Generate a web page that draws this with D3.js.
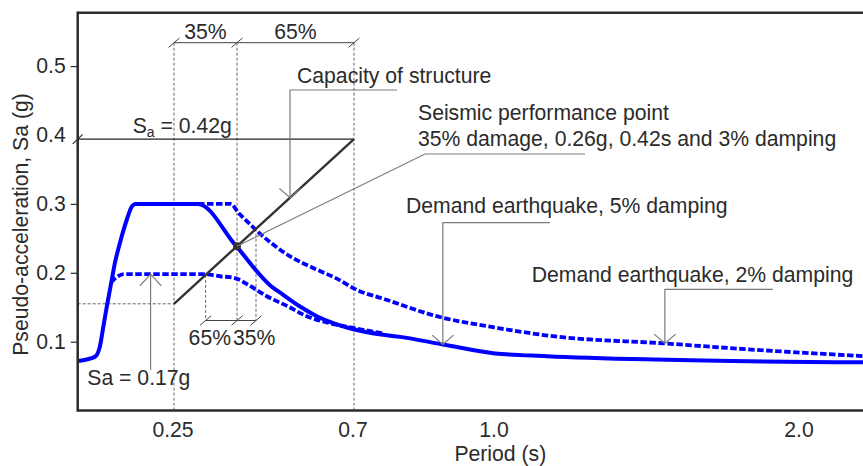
<!DOCTYPE html>
<html>
<head>
<meta charset="utf-8">
<script src="https://cdn.jsdelivr.net/npm/d3@7"></script>
<style>
  html, body { margin: 0; padding: 0; background: #fff; }
  svg { display: block; font-family: "Liberation Sans", Arial, Helvetica, sans-serif; }
</style>
</head>
<body>
<svg id="chart" width="863" height="466"></svg>
<script>
// ---- Axis ticks ----
const periodTicks = [0.25, 0.7, 1.0, 2.0];
const periodTickLabels = ["0.25", "0.7", "1.0", "2.0"];
const saTicks = [0.1, 0.2, 0.3, 0.4, 0.5];
const saTickLabels = ["0.1", "0.2", "0.3", "0.4", "0.5"];

// ---- Demand spectra: [period (s), Sa (g)] ----
// 5% damping (solid)
const demand5 = [
  [0.000, 0.072], [0.044, 0.078], [0.057, 0.093], [0.066, 0.122], [0.075, 0.151],
  [0.088, 0.190], [0.096, 0.214], [0.109, 0.243], [0.127, 0.277], [0.140, 0.296],
  [0.150, 0.300], [0.310, 0.300], [0.405, 0.239], [0.490, 0.182], [0.523, 0.168],
  [0.565, 0.151], [0.607, 0.137], [0.648, 0.127], [0.698, 0.118], [0.762, 0.110],
  [0.798, 0.107], [0.889, 0.096], [1.000, 0.083], [1.170, 0.079], [1.530, 0.074],
  [2.210, 0.070]
];
// 2% damping (dashed, continues the 5% plateau)
const demand2 = [
  [0.310, 0.300], [0.392, 0.300], [0.411, 0.287], [0.432, 0.275], [0.457, 0.261],
  [0.498, 0.241], [0.540, 0.224], [0.598, 0.207], [0.652, 0.193], [0.713, 0.173],
  [0.755, 0.164], [0.876, 0.137], [0.996, 0.121], [1.190, 0.108], [1.557, 0.0975],
  [1.826, 0.089], [2.210, 0.079]
];
// reduced spectrum with the 0.2 g plateau (dashed)
const demandLow = [
  [0.086, 0.186], [0.099, 0.193], [0.120, 0.198], [0.3225, 0.198], [0.365, 0.195],
  [0.404, 0.192], [0.440, 0.181], [0.482, 0.166], [0.532, 0.152], [0.582, 0.137],
  [0.632, 0.128], [0.698, 0.120], [0.762, 0.112]
];

// ---- Capacity of structure ----
const capacityStart = [0.25, 0.155];
const capacityEnd = [0.70, 0.394];
const damageShare = [0.35, 0.65];          // 35% / 65% split of the capacity range
const damageBounds = [0.329, 0.455];       // periods where capacity meets the dashed spectra

// ---- Layout ----
const W = 863, H = 466;
const plotLeft = 77.7, plotTop = 12.7, plotBottom = 410.6;

const x = d3.scaleLinear()
  .domain([0, 0.25, 0.7, 1.0, 2.0])
  .range([78, 174, 354, 495, 800]);
const y = d3.scaleLinear().domain([0, 0.5]).range([plotBottom, plotBottom - 344.5]);

const svg = d3.select("#chart");
const ink = "#2b2b2b";
const guide = "#7a7a7a";
const blue = "#0000ff";
const fs = 21.2;

const capAt = p => capacityStart[1] + (p - capacityStart[0]) / (capacityEnd[0] - capacityStart[0]) * (capacityEnd[1] - capacityStart[1]);
const perfPeriod = capacityStart[0] + damageShare[0] * (capacityEnd[0] - capacityStart[0]);
const perfSa = capAt(perfPeriod);

// ---- Dashed reference lines ----
const topDimY = 42.7, botDimY = 320.5;
const dashed = svg.append("g").attr("stroke", "#666").attr("stroke-width", 1).attr("stroke-dasharray", "3,2").attr("fill", "none");
dashed.append("line").attr("x1", x(capacityStart[0])).attr("x2", x(capacityStart[0])).attr("y1", topDimY).attr("y2", plotBottom);
dashed.append("line").attr("x1", x(capacityEnd[0])).attr("x2", x(capacityEnd[0])).attr("y1", topDimY).attr("y2", plotBottom);
dashed.append("line").attr("x1", x(perfPeriod)).attr("x2", x(perfPeriod)).attr("y1", topDimY).attr("y2", botDimY);
damageBounds.forEach(p => {
  dashed.append("line").attr("x1", x(p)).attr("x2", x(p)).attr("y1", y(capAt(p))).attr("y2", botDimY);
});
dashed.append("line").attr("x1", plotLeft).attr("x2", x(capacityStart[0])).attr("y1", y(capacityStart[1])).attr("y2", y(capacityStart[1]));

// ---- Dimension lines ----
const dim = svg.append("g").attr("stroke", "#444").attr("stroke-width", 1).attr("fill", "none");
function slash(g, cx, cy) {
  g.append("line").attr("x1", cx - 5.5).attr("y1", cy + 4.7).attr("x2", cx + 5.5).attr("y2", cy - 4.7);
}
dim.append("line").attr("x1", x(capacityStart[0])).attr("x2", x(capacityEnd[0])).attr("y1", topDimY).attr("y2", topDimY);
[capacityStart[0], perfPeriod, capacityEnd[0]].forEach(p => slash(dim, x(p), topDimY));
dim.append("line").attr("x1", x(damageBounds[0])).attr("x2", x(damageBounds[1])).attr("y1", botDimY).attr("y2", botDimY);
[damageBounds[0], perfPeriod, damageBounds[1]].forEach(p => slash(dim, x(p), botDimY));

// Sa level of the capacity top
svg.append("line").attr("x1", plotLeft).attr("x2", x(capacityEnd[0]))
  .attr("y1", y(capacityEnd[1])).attr("y2", y(capacityEnd[1]))
  .attr("stroke", "#222").attr("stroke-width", 1.2);

// ---- Spectra ----
const line = d3.line().x(d => x(d[0])).y(d => y(d[1])).curve(d3.curveMonotoneX);
svg.append("path").datum(demand2).attr("d", line)
  .attr("fill", "none").attr("stroke", blue).attr("stroke-width", 3.8).attr("stroke-dasharray", "6.5,2.5");
svg.append("path").datum(demandLow).attr("d", line)
  .attr("fill", "none").attr("stroke", blue).attr("stroke-width", 3.8).attr("stroke-dasharray", "6.5,2.5");
svg.append("path").datum(demand5).attr("d", line)
  .attr("fill", "none").attr("stroke", blue).attr("stroke-width", 4);

// ---- Capacity line and performance point ----
svg.append("line")
  .attr("x1", x(capacityStart[0])).attr("y1", y(capacityStart[1]))
  .attr("x2", x(capacityEnd[0])).attr("y2", y(capacityEnd[1]))
  .attr("stroke", "#333").attr("stroke-width", 2.4);
svg.append("circle").attr("cx", x(perfPeriod)).attr("cy", y(perfSa)).attr("r", 4)
  .attr("fill", "#333");

// ---- Axes ----
const frame = svg.append("g").attr("stroke", ink).attr("stroke-width", 2.5).attr("fill", "none");
frame.append("line").attr("x1", plotLeft).attr("x2", W).attr("y1", plotTop).attr("y2", plotTop);
frame.append("line").attr("x1", plotLeft).attr("x2", plotLeft).attr("y1", plotTop - 1.25).attr("y2", plotBottom + 1.25);
frame.append("line").attr("x1", plotLeft).attr("x2", W).attr("y1", plotBottom).attr("y2", plotBottom);

const yAxis = svg.append("g").attr("transform", `translate(${plotLeft},0)`)
  .call(d3.axisLeft(y).tickValues(saTicks).tickSize(7).tickPadding(5)
    .tickFormat((d, i) => saTickLabels[i]));
yAxis.select(".domain").remove();
yAxis.selectAll(".tick line").attr("stroke", ink).attr("stroke-width", 1.2)
  .filter(d => d === 0.4).remove();
yAxis.selectAll(".tick text").attr("fill", ink).attr("font-size", fs)
  .attr("font-family", "Liberation Sans, Arial, sans-serif");
// axis break at the 0.4 level
svg.append("line").attr("x1", plotLeft - 5).attr("y1", y(capacityEnd[1]) + 4.7)
  .attr("x2", plotLeft + 5).attr("y2", y(capacityEnd[1]) - 4.7)
  .attr("stroke", ink).attr("stroke-width", 1.2);

const xAxis = svg.append("g").attr("transform", `translate(0,${plotBottom})`)
  .call(d3.axisBottom(x).tickValues(periodTicks).tickSize(0).tickPadding(11)
    .tickFormat((d, i) => periodTickLabels[i]));
xAxis.select(".domain").remove();
xAxis.selectAll(".tick text").attr("fill", ink).attr("font-size", fs).attr("dx", -1.5)
  .attr("font-family", "Liberation Sans, Arial, sans-serif");

svg.append("text").attr("x", 500.3).attr("y", 461).attr("text-anchor", "middle")
  .attr("font-size", fs).attr("fill", ink).text("Period (s)");
svg.append("text").attr("transform", "translate(28,224.5) rotate(-90)").attr("text-anchor", "middle")
  .attr("font-size", fs).attr("fill", ink).text("Pseudo-acceleration, Sa (g)");

// ---- Dimension labels ----
const txt = (tx, ty, s, anchor) => svg.append("text").attr("x", tx).attr("y", ty)
  .attr("text-anchor", anchor || "start").attr("font-size", fs).attr("fill", ink).text(s);
txt((x(capacityStart[0]) + x(perfPeriod)) / 2, 39, "35%", "middle");
txt((x(perfPeriod) + x(capacityEnd[0])) / 2, 39, "65%", "middle");
txt(x(perfPeriod) - 6, 345, "65%", "end");
txt(x(perfPeriod) - 4, 345, "35%", "start");

const saTop = svg.append("text").attr("x", 132.7).attr("y", 133).attr("font-size", fs).attr("fill", ink);
saTop.append("tspan").text("S");
saTop.append("tspan").attr("font-size", 14).attr("dy", 4).text("a");
saTop.append("tspan").attr("dy", -4).text(" = 0.42g");

// ---- Callouts ----
const lead = svg.append("g").attr("stroke", guide).attr("stroke-width", 1.2).attr("fill", "none");
function arrowDown(tx, ty, elbowY, tailX) {
  lead.append("polyline").attr("points", `${tailX},${elbowY} ${tx},${elbowY} ${tx},${ty}`);
  lead.append("polyline").attr("points", `${tx - 10.7},${ty - 9.3} ${tx},${ty} ${tx + 10.7},${ty - 9.3}`);
}

// Capacity of structure
const capTipP = 0.54;
arrowDown(x(capTipP), y(capAt(capTipP)), 90, x(capTipP) + 107);
txt(297, 82.5, "Capacity of structure");

// Seismic performance point
lead.append("polyline").attr("points", `585,154 425,154 ${x(perfPeriod)},${y(perfSa)}`);
txt(418, 119.5, "Seismic performance point");
txt(418, 146, "35% damage, 0.26g, 0.42s and 3% damping");

// 5% damping
const tip5 = demand5.find(d => d[0] === 0.889);
arrowDown(x(tip5[0]), y(tip5[1]), 222.7, x(tip5[0]) + 107);
txt(406, 212.7, "Demand earthquake, 5% damping");

// 2% damping
const tip2 = demand2.find(d => d[0] === 1.557);
arrowDown(x(tip2[0]), y(tip2[1]), 289.3, x(tip2[0]) + 108);
txt(531.7, 281.7, "Demand earthquake, 2% damping");

// Sa = 0.17g
const tipLow = [0.189, demandLow[3][1]];
const tlx = x(tipLow[0]), tly = y(tipLow[1]);
lead.append("line").attr("x1", tlx).attr("x2", tlx).attr("y1", 370).attr("y2", tly);
lead.append("polyline").attr("points", `${tlx - 10.7},${tly + 11.7} ${tlx},${tly} ${tlx + 10.7},${tly + 11.7}`);
txt(87.3, 385, "Sa = 0.17g");
</script>
</body>
</html>
